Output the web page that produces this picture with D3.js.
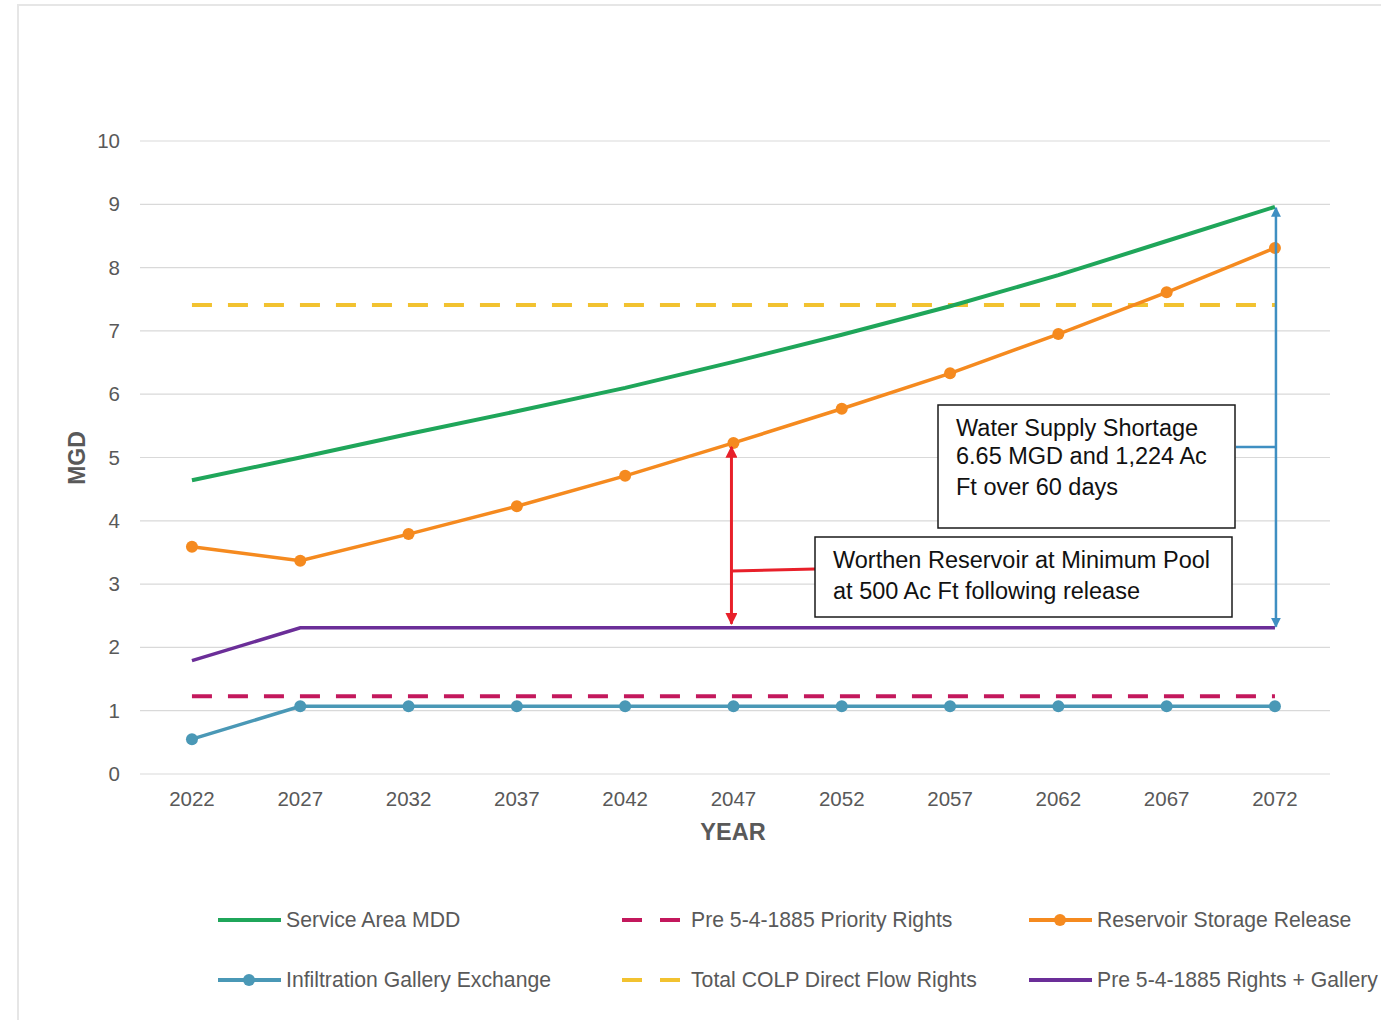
<!DOCTYPE html>
<html>
<head>
<meta charset="utf-8">
<script src="https://d3js.org/d3.v7.min.js"></script>
<style>
  body { margin: 0; background: #fff; }
  text { font-family: "Liberation Sans", Arial, sans-serif; }
</style>
</head>
<body>
<svg id="chart" width="1381" height="1020"></svg>
<script>
const years = ["2022", "2027", "2032", "2037", "2042", "2047", "2052", "2057", "2062", "2067", "2072"];
const serviceAreaMDD = [4.64, 5.0, 5.37, 5.73, 6.1, 6.51, 6.94, 7.39, 7.88, 8.42, 8.96];
const reservoirRelease = [3.59, 3.37, 3.79, 4.23, 4.71, 5.23, 5.77, 6.33, 6.95, 7.61, 8.31];
const rightsPlusGallery = [1.79, 2.31, 2.31, 2.31, 2.31, 2.31, 2.31, 2.31, 2.31, 2.31, 2.31];
const galleryExchange = [0.55, 1.07, 1.07, 1.07, 1.07, 1.07, 1.07, 1.07, 1.07, 1.07, 1.07];
const priorityRights = [1.23, 1.23, 1.23, 1.23, 1.23, 1.23, 1.23, 1.23, 1.23, 1.23, 1.23];
const colpRights = [7.41, 7.41, 7.41, 7.41, 7.41, 7.41, 7.41, 7.41, 7.41, 7.41, 7.41];
const yTicks = [0, 1, 2, 3, 4, 5, 6, 7, 8, 9, 10];

const series = [
  { name: "Service Area MDD", values: serviceAreaMDD, color: "#1fa65a", width: 4, dash: null, marker: false },
  { name: "Pre 5-4-1885 Priority Rights", values: priorityRights, color: "#c3185c", width: 4, dash: "20,16", marker: false },
  { name: "Reservoir Storage Release", values: reservoirRelease, color: "#f58a1f", width: 3.5, dash: null, marker: true },
  { name: "Infiltration Gallery Exchange", values: galleryExchange, color: "#4a98b6", width: 3.5, dash: null, marker: true },
  { name: "Total COLP Direct Flow Rights", values: colpRights, color: "#f2c230", width: 4, dash: "20,16", marker: false },
  { name: "Pre 5-4-1885 Rights + Gallery", values: rightsPlusGallery, color: "#6b2e98", width: 3.5, dash: null, marker: false }
];

const svg = d3.select("#chart");

//outer frame
svg.append("rect")
  .attr("x", 18).attr("y", 5)
  .attr("width", 1400).attr("height", 1100)
  .attr("fill", "none")
  .attr("stroke", "#e6e6e6")
  .attr("stroke-width", 2);

const plot = { left: 140, right: 1330, top: 141, bottom: 774 };

const x = d3.scaleBand()
  .domain(years)
  .range([137.8, 1329.1]);
const xc = d => x(d) + x.bandwidth() / 2;

const y = d3.scaleLinear()
  .domain([0, 10])
  .range([plot.bottom, plot.top]);

//gridlines
svg.append("g")
  .selectAll("line")
  .data(yTicks)
  .enter()
  .append("line")
  .attr("x1", plot.left).attr("x2", plot.right)
  .attr("y1", d => y(d)).attr("y2", d => y(d))
  .attr("stroke", "#d9d9d9")
  .attr("stroke-width", 1.2);

//y axis labels
const yAxis = svg.append("g")
  .attr("transform", `translate(${plot.left},0)`)
  .call(d3.axisLeft(y).tickValues(yTicks).tickSize(0).tickPadding(20));
yAxis.select(".domain").remove();
yAxis.selectAll("text")
  .style("font-size", "20.5px")
  .attr("fill", "#595959");

//x axis labels
const xAxis = svg.append("g")
  .attr("transform", `translate(0,${plot.bottom})`)
  .call(d3.axisBottom(x).tickSize(0).tickPadding(17));
xAxis.select(".domain").remove();
xAxis.selectAll("text")
  .style("font-size", "20.5px")
  .attr("fill", "#595959");

svg.append("text")
  .attr("transform", "translate(85,458) rotate(-90)")
  .attr("text-anchor", "middle")
  .style("font-size", "23px")
  .style("font-weight", "bold")
  .attr("fill", "#595959")
  .text("MGD");

svg.append("text")
  .attr("x", 733).attr("y", 840)
  .attr("text-anchor", "middle")
  .style("font-size", "23.5px")
  .style("font-weight", "bold")
  .attr("fill", "#595959")
  .text("YEAR");

//series lines
const line = d3.line()
  .x((d, i) => xc(years[i]))
  .y(d => y(d));

const drawOrder = [4, 1, 5, 3, 0, 2];
drawOrder.forEach(k => {
  const s = series[k];
  svg.append("path")
    .datum(s.values)
    .attr("d", line)
    .attr("fill", "none")
    .attr("stroke", s.color)
    .attr("stroke-width", s.width)
    .attr("stroke-dasharray", s.dash);
  if (s.marker) {
    svg.append("g")
      .selectAll("circle")
      .data(s.values)
      .enter()
      .append("circle")
      .attr("cx", (d, i) => xc(years[i]))
      .attr("cy", d => y(d))
      .attr("r", 6)
      .attr("fill", s.color);
  }
});

//arrow markers
const defs = svg.append("defs");
function arrowHead(id, color) {
  defs.append("marker")
    .attr("id", id)
    .attr("viewBox", "0 0 10 10")
    .attr("refX", 9).attr("refY", 5)
    .attr("markerWidth", 4).attr("markerHeight", 4)
    .attr("orient", "auto-start-reverse")
    .append("path")
    .attr("d", "M0,0 L10,5 L0,10 z")
    .attr("fill", color);
}
arrowHead("arrRed", "#e8202a");
arrowHead("arrBlue", "#3f8fc2");

//red annotation: reservoir at min pool
const ax1 = xc("2047") - 2;
svg.append("line")
  .attr("x1", ax1).attr("x2", ax1)
  .attr("y1", y(reservoirRelease[5]) + 4).attr("y2", y(rightsPlusGallery[5]) - 4)
  .attr("stroke", "#e8202a").attr("stroke-width", 3)
  .attr("marker-start", "url(#arrRed)")
  .attr("marker-end", "url(#arrRed)");
svg.append("line")
  .attr("x1", ax1).attr("x2", 815)
  .attr("y1", 571).attr("y2", 569)
  .attr("stroke", "#e8202a").attr("stroke-width", 3);

//blue annotation: shortage
const ax2 = xc("2072") + 1;
svg.append("line")
  .attr("x1", ax2).attr("x2", ax2)
  .attr("y1", y(serviceAreaMDD[10]) + 1).attr("y2", y(rightsPlusGallery[10]) - 1)
  .attr("stroke", "#3f8fc2").attr("stroke-width", 2.5)
  .attr("marker-start", "url(#arrBlue)")
  .attr("marker-end", "url(#arrBlue)");
svg.append("line")
  .attr("x1", 1236).attr("x2", ax2)
  .attr("y1", 447).attr("y2", 447)
  .attr("stroke", "#3f8fc2").attr("stroke-width", 2.5);

function noteBox(bx, by, bw, bh, lines, lineY) {
  svg.append("rect")
    .attr("x", bx).attr("y", by)
    .attr("width", bw).attr("height", bh)
    .attr("fill", "#fff")
    .attr("stroke", "#1a1a1a")
    .attr("stroke-width", 1.5);
  lines.forEach((t, i) => {
    svg.append("text")
      .attr("x", bx + 18).attr("y", lineY[i])
      .style("font-size", "23.5px")
      .attr("fill", "#111")
      .text(t);
  });
}
noteBox(938, 405, 297, 123, ["Water Supply Shortage", "6.65 MGD and 1,224 Ac", "Ft over 60 days"], [436, 464, 495]);
noteBox(815, 537, 417, 80, ["Worthen Reservoir at Minimum Pool", "at 500 Ac Ft following release"], [568, 599]);

//legend
const legendPos = [
  { x: 218, y: 920 }, { x: 622, y: 920 }, { x: 1029, y: 920 },
  { x: 218, y: 980 }, { x: 622, y: 980 }, { x: 1029, y: 980 }
];
const legendOrder = [0, 1, 2, 3, 4, 5];
legendOrder.forEach((k, i) => {
  const s = series[k];
  const p = legendPos[i];
  const g = svg.append("g").attr("transform", `translate(${p.x},${p.y})`);
  if (s.dash) {
    g.append("line")
      .attr("x1", 0).attr("x2", 60)
      .attr("stroke", s.color).attr("stroke-width", 4)
      .attr("stroke-dasharray", "20,18");
  } else {
    g.append("line")
      .attr("x1", 0).attr("x2", 63)
      .attr("stroke", s.color).attr("stroke-width", 4);
  }
  if (s.marker) {
    g.append("circle").attr("cx", 31).attr("r", 6).attr("fill", s.color);
  }
  g.append("text")
    .attr("x", s.dash ? 69 : 68)
    .attr("y", 7)
    .style("font-size", "21.2px")
    .attr("fill", "#595959")
    .text(s.name);
});
</script>
</body>
</html>
